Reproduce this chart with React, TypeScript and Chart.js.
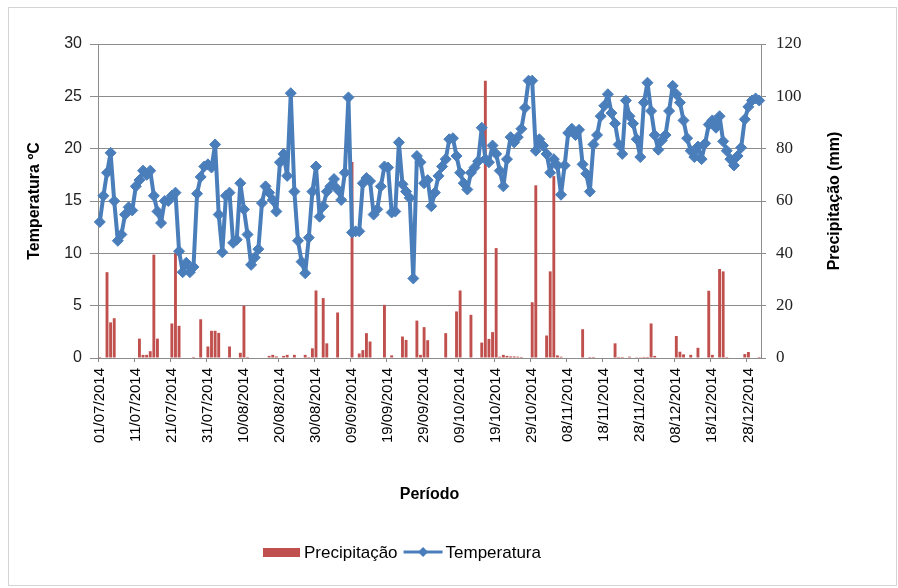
import { useEffect, useRef } from 'react';
import { Chart, registerables } from 'chart.js';

Chart.register(...registerables);

// ---- data ----
const startDate = { year: 2014, month: 7, day: 1 };
const dayCount = 184;
const dateLabels: string[] = [];
for (let i = 0; i < dayCount; i++) {
  const d = new Date(Date.UTC(startDate.year, startDate.month - 1, startDate.day + i));
  const dd = String(d.getUTCDate()).padStart(2, '0');
  const mm = String(d.getUTCMonth() + 1).padStart(2, '0');
  dateLabels.push(`${dd}/${mm}/${d.getUTCFullYear()}`);
}

const temperatura = [
  13.0, 15.5, 17.7, 19.6, 15.0, 11.2, 11.8, 13.7, 14.4, 14.1,
  16.4, 17.0, 17.9, 17.5, 17.9, 15.5, 14.0, 12.9, 15.0, 15.0,
  15.5, 15.8, 10.2, 8.2, 9.1, 8.2, 8.7, 15.7, 17.3, 18.3,
  18.5, 18.2, 20.4, 13.7,
  10.1, 15.5, 15.8, 11.0, 11.3, 16.7, 14.2, 11.8, 8.9, 9.6,
  10.4, 14.8, 16.4, 15.8, 15.1, 14.0, 18.7, 19.5, 17.4, 25.3,
  15.9, 11.2, 9.2, 8.1, 11.5, 15.9, 18.3,
  13.5, 14.5, 15.9, 16.4, 17.1, 16.1, 15.1, 17.7, 24.9, 12.0,
  12.1, 12.1, 16.7, 17.2, 16.9, 13.7, 14.2, 16.4, 18.3, 18.2,
  13.9, 14.0, 20.6, 16.6, 15.9, 15.3, 7.6, 19.3, 18.7, 16.7,
  17.0, 14.5, 15.8, 17.4, 18.3, 19.0, 20.9, 21.0, 19.3, 17.7,
  16.7, 16.1, 17.7, 18.2, 18.8, 22.0, 19.0, 18.7, 20.3, 19.5,
  17.9, 16.4, 19.0, 21.1, 20.6, 21.1, 21.9, 23.9, 26.5, 26.5,
  19.8,
  20.9, 20.3, 19.5, 17.7, 19.0, 18.4, 15.6, 18.4, 21.5, 21.9,
  21.3, 21.8, 18.5, 17.6, 15.9, 20.4, 21.3, 23.1, 24.1, 25.2,
  23.4, 22.4, 20.4, 19.5, 24.6, 23.1, 22.4, 20.9, 19.2, 24.4,
  26.3,
  23.6, 21.3, 19.9, 20.8, 21.3, 23.6, 26.0, 25.2, 24.4, 22.7,
  21.0, 19.8, 19.2, 20.2, 19.0, 20.5, 22.3, 22.7, 22.0, 23.1,
  20.7, 19.8, 19.0, 18.4, 19.3, 20.1, 22.8, 24.0, 24.6, 24.8,
  24.6,
];

const precipitacao = [
  0.4, 0, 32.8, 13.6, 15.2, 0, 0, 0, 0, 0,
  0, 7.4, 1.2, 1.2, 2.6, 39.5, 7.4, 0, 0, 0,
  13.2, 40.0, 12.3, 0, 0, 0, 0.4, 0, 14.8, 0,
  4.4, 10.4, 10.4, 9.6, 0, 0, 4.4, 0, 0, 2.0,
  20.0, 0.4, 0, 0, 0, 0, 0, 0.8, 1.2, 0.6,
  0, 0.8, 1.2, 0, 1.2, 0, 0, 1.2, 0.4, 3.7,
  25.8, 0, 22.9, 5.6, 0, 0, 17.4, 0, 0, 0,
  74.9, 0, 1.7, 3.0, 9.5, 6.3, 0, 0, 0, 20.3,
  0, 1.0, 0, 0, 8.2, 6.9, 0, 0, 14.3, 1.2,
  11.8, 6.8, 0, 0, 0, 0, 9.5, 0, 0, 17.8,
  25.8, 0, 0, 16.5, 0, 0, 5.9, 106.0, 7.3, 9.9,
  42.0, 0.5, 1.2, 0.8, 0.6, 0.6, 0.5, 0.4, 0, 0,
  21.3, 66.0, 0, 0, 8.6, 33.1, 69.5, 1.0, 0.5, 0,
  0, 0, 0, 0, 11.0, 0, 0.4, 0.4, 0, 0,
  0, 0, 0, 5.6, 0.4, 0.4, 0, 0.5, 0, 0.3,
  0.3, 0.4, 0.4, 13.2, 0.8, 0, 0, 0, 0, 0,
  8.4, 2.4, 1.4, 0, 1.2, 0, 3.9, 0, 0, 25.7,
  1.2, 0, 34.0, 33.1, 0.4, 0, 0, 0, 0, 1.5,
  2.3, 0, 0, 0.4,
];

const tempRange = { min: 0, max: 30, step: 5 };
const precRange = { min: 0, max: 120, step: 20 };

const seriesNames = { prec: 'Precipitação', temp: 'Temperatura' };
const axisTitles = { left: 'Temperatura ºC', right: 'Precipitação (mm)', bottom: 'Período' };

const BLUE = '#4A7EBB';
const RED = '#C0504D';
const GRID = '#8c8c8c';
const SANS = '"Liberation Sans", Arial, sans-serif';
const SERIF = '"Liberation Serif", "Times New Roman", serif';

const decorPlugin = {
  id: 'decor',
  afterDraw(chart: any) {
    const ctx: CanvasRenderingContext2D = chart.ctx;
    const ca = chart.chartArea;
    ctx.save();
    // outer border
    ctx.strokeStyle = '#d4d4d4';
    ctx.lineWidth = 1;
    ctx.strokeRect(8.5, 7.5, 888, 578);

    // right axis title (reads bottom to top)
    ctx.save();
    ctx.font = `bold 16px ${SANS}`;
    ctx.fillStyle = '#000';
    ctx.textAlign = 'center';
    ctx.textBaseline = 'middle';
    ctx.translate(835, (ca.top + ca.bottom) / 2);
    ctx.rotate(-Math.PI / 2);
    ctx.fillText(axisTitles.right, 0, 0);
    ctx.restore();

    // legend
    const ly = 552;
    let x = 263;
    ctx.fillStyle = RED;
    ctx.fillRect(x, ly - 4, 37, 9);
    x += 41;
    ctx.font = `17px ${SANS}`;
    ctx.fillStyle = '#000';
    ctx.textAlign = 'left';
    ctx.textBaseline = 'middle';
    ctx.fillText(seriesNames.prec, x, ly + 1);
    x += ctx.measureText(seriesNames.prec).width + 6;
    ctx.strokeStyle = BLUE;
    ctx.lineWidth = 3;
    ctx.beginPath();
    ctx.moveTo(x, ly);
    ctx.lineTo(x + 39, ly);
    ctx.stroke();
    const cx = x + 19.5;
    ctx.fillStyle = BLUE;
    ctx.beginPath();
    ctx.moveTo(cx, ly - 5);
    ctx.lineTo(cx + 5, ly);
    ctx.lineTo(cx, ly + 5);
    ctx.lineTo(cx - 5, ly);
    ctx.closePath();
    ctx.fill();
    x += 42;
    ctx.fillStyle = '#000';
    ctx.fillText(seriesNames.temp, x, ly + 1);
    ctx.restore();
  },
};

export default function App() {
  const canvasRef = useRef<HTMLCanvasElement | null>(null);

  useEffect(() => {
    if (!canvasRef.current) return;
    const chart = new Chart(canvasRef.current, {
      type: 'bar',
      data: {
        labels: dateLabels,
        datasets: [
          {
            type: 'line',
            label: seriesNames.temp,
            data: temperatura,
            yAxisID: 'y',
            borderColor: BLUE,
            backgroundColor: BLUE,
            borderWidth: 4,
            borderJoinStyle: 'round',
            borderCapStyle: 'round',
            pointStyle: 'rectRot',
            pointRadius: 5.5,
            pointBorderWidth: 1,
            pointBackgroundColor: BLUE,
            pointBorderColor: BLUE,
            tension: 0,
            order: 0,
          } as any,
          {
            type: 'bar',
            label: seriesNames.prec,
            data: precipitacao,
            yAxisID: 'y1',
            backgroundColor: RED,
            borderWidth: 0,
            categoryPercentage: 1,
            barPercentage: 0.8,
            order: 1,
          },
        ],
      },
      options: {
        responsive: false,
        animation: false,
        layout: { padding: { top: 44, left: 0, right: 0, bottom: 0 } },
        plugins: {
          legend: { display: false },
          tooltip: { enabled: false },
          title: { display: false },
        },
        scales: {
          x: {
            offset: true,
            grid: {
              display: true,
              drawOnChartArea: false,
              drawTicks: true,
              tickLength: 4,
              color: (c: any) => (c.index % 10 === 0 ? GRID : 'rgba(0,0,0,0)'),
            },
            border: { display: true, color: GRID },
            ticks: {
              autoSkip: false,
              minRotation: 90,
              maxRotation: 90,
              padding: 6,
              color: '#000',
              font: { family: SANS, size: 15 },
              callback: (_v: any, i: number) => (i % 10 === 0 ? dateLabels[i] : ''),
            },
            title: {
              display: true,
              text: axisTitles.bottom,
              color: '#000',
              font: { family: SANS, size: 16, weight: 'bold' },
              padding: { top: 0, bottom: 84 },
            },
            afterFit: (s: any) => {
              s.height = 230;
            },
          },
          y: {
            position: 'left',
            min: tempRange.min,
            max: tempRange.max,
            ticks: {
              stepSize: tempRange.step,
              padding: 8,
              color: '#222',
              font: { family: SANS, size: 16 },
            },
            grid: { color: GRID, tickLength: 8, drawTicks: true },
            border: { display: true, color: GRID },
            title: {
              display: true,
              text: axisTitles.left,
              color: '#000',
              font: { family: SANS, size: 16, weight: 'bold' },
              padding: { top: 25, bottom: 0 },
            },
            afterFit: (s: any) => {
              s.width = 98;
            },
          },
          y1: {
            position: 'right',
            min: precRange.min,
            max: precRange.max,
            ticks: {
              stepSize: precRange.step,
              padding: 10,
              color: '#222',
              font: { family: SERIF, size: 17 },
            },
            grid: { drawOnChartArea: false, color: GRID, tickLength: 5 },
            border: { display: true, color: GRID },
            afterFit: (s: any) => {
              s.width = 137;
            },
          },
        },
      },
      plugins: [decorPlugin],
    });
    return () => chart.destroy();
  }, []);

  return (
    <div style={{ position: 'absolute', left: 0, top: 0, width: 898, height: 588, background: '#fff' }}>
      <canvas ref={canvasRef} width={898} height={588} style={{ display: 'block' }} />
    </div>
  );
}
